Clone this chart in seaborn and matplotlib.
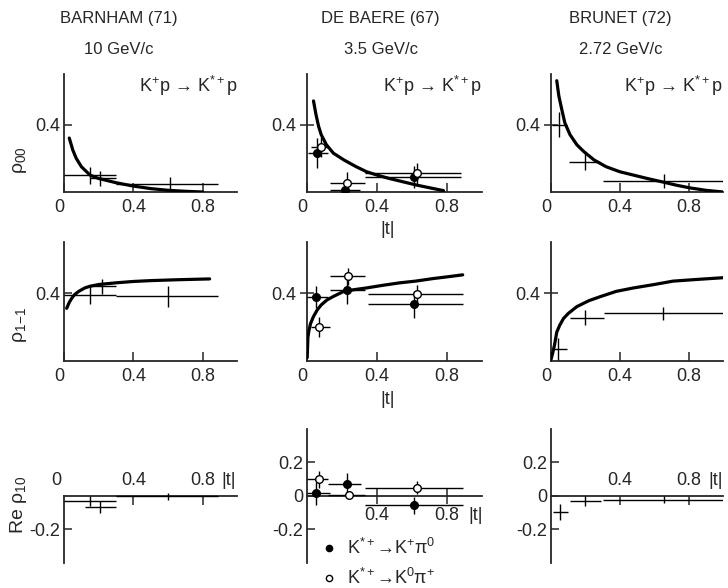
import numpy as np
import matplotlib
matplotlib.use("Agg")
import matplotlib.pyplot as plt
import seaborn as sns
from matplotlib.lines import Line2D

# ---- data ----
# BARNHAM (71), 10 GeV/c
bar00_t = [0.15, 0.21, 0.61]
bar00_v = [0.10, 0.08, 0.05]
bar00_tlo = [0.0, 0.15, 0.30]
bar00_thi = [0.30, 0.30, 0.89]
bar00_err = [0.05, 0.045, 0.04]
bar00_curve_t = [0.03, 0.05, 0.07, 0.1, 0.15, 0.2, 0.3, 0.4, 0.5, 0.6, 0.7, 0.8]
bar00_curve_v = [0.32, 0.25, 0.2, 0.15, 0.1, 0.08, 0.055, 0.035, 0.02, 0.01, 0.004, 0.0]

bar11_t = [0.15, 0.22, 0.60]
bar11_v = [0.39, 0.44, 0.38]
bar11_tlo = [0.0, 0.15, 0.30]
bar11_thi = [0.30, 0.30, 0.89]
bar11_err = [0.055, 0.045, 0.06]
bar11_curve_t = [0.015, 0.03, 0.045, 0.06, 0.085, 0.12, 0.15, 0.2, 0.3, 0.4, 0.5, 0.65, 0.84]
bar11_curve_v = [0.31, 0.345, 0.37, 0.39, 0.41, 0.43, 0.44, 0.45, 0.46, 0.468, 0.473, 0.478, 0.483]

bar10_t = [0.15, 0.21, 0.60]
bar10_v = [-0.03, -0.065, -0.003]
bar10_tlo = [0.0, 0.12, 0.30]
bar10_thi = [0.30, 0.30, 0.89]
bar10_err = [0.03, 0.035, 0.02]

# DE BAERE (67), 3.5 GeV/c  (filled: K*+ -> K+ pi0, open: K*+ -> K0 pi+)
deb00_f_t = [0.055, 0.217, 0.61]
deb00_f_v = [0.23, 0.01, 0.088]
deb00_f_tlo = [0.006, 0.13, 0.33]
deb00_f_thi = [0.12, 0.30, 0.88]
deb00_f_err = [0.09, 0.04, 0.065]
deb00_o_t = [0.078, 0.23, 0.63]
deb00_o_v = [0.267, 0.056, 0.11]
deb00_o_tlo = [0.02, 0.13, 0.33]
deb00_o_thi = [0.12, 0.33, 0.88]
deb00_o_err = [0.06, 0.06, 0.06]
deb00_curve_t = [0.036, 0.05, 0.065, 0.08, 0.11, 0.15, 0.21, 0.28, 0.34, 0.4, 0.47, 0.55, 0.63, 0.7, 0.78]
deb00_curve_v = [0.54, 0.46, 0.39, 0.34, 0.28, 0.23, 0.19, 0.15, 0.12, 0.1, 0.08, 0.06, 0.04, 0.025, 0.008]

deb11_f_t = [0.051, 0.225, 0.61]
deb11_f_v = [0.376, 0.42, 0.333]
deb11_f_tlo = [0.0, 0.13, 0.35]
deb11_f_thi = [0.12, 0.33, 0.89]
deb11_f_err = [0.065, 0.085, 0.08]
deb11_o_t = [0.067, 0.234, 0.63]
deb11_o_v = [0.20, 0.50, 0.396]
deb11_o_tlo = [0.02, 0.13, 0.35]
deb11_o_thi = [0.13, 0.33, 0.89]
deb11_o_err = [0.06, 0.05, 0.05]
deb11_curve_t = [0.0, 0.004, 0.01, 0.019, 0.035, 0.057, 0.08, 0.114, 0.15, 0.21, 0.27, 0.34,
                 0.43, 0.53, 0.62, 0.72, 0.8, 0.89]
deb11_curve_v = [0.02, 0.14, 0.18, 0.22, 0.26, 0.30, 0.33, 0.36, 0.38, 0.41, 0.42, 0.43,
                 0.445, 0.46, 0.47, 0.485, 0.495, 0.507]

deb10_f_t = [0.048, 0.227, 0.61]
deb10_f_v = [0.015, 0.07, -0.056]
deb10_f_tlo = [0.0, 0.12, 0.33]
deb10_f_thi = [0.13, 0.31, 0.89]
deb10_f_err = [0.07, 0.07, 0.05]
deb10_o_t = [0.07, 0.238, 0.63]
deb10_o_v = [0.10, 0.004, 0.05]
deb10_o_tlo = [0.0, 0.12, 0.33]
deb10_o_thi = [0.12, 0.33, 0.89]
deb10_o_err = [0.05, 0.02, 0.04]

# BRUNET (72), 2.72 GeV/c
bru00_t = [0.047, 0.2, 0.655]
bru00_v = [0.40, 0.18, 0.064]
bru00_tlo = [0.004, 0.107, 0.305]
bru00_thi = [0.09, 0.286, 1.0]
bru00_err = [0.075, 0.05, 0.04]
bru00_curve_t = [0.033, 0.045, 0.062, 0.08, 0.11, 0.15, 0.19, 0.25, 0.32, 0.4, 0.48, 0.56,
                 0.655, 0.73, 0.81, 0.9, 1.0]
bru00_curve_v = [0.66, 0.57, 0.49, 0.41, 0.34, 0.28, 0.24, 0.19, 0.15, 0.12, 0.10, 0.08,
                 0.058, 0.04, 0.024, 0.01, 0.0]

bru11_t = [0.043, 0.2, 0.65]
bru11_v = [0.07, 0.256, 0.28]
bru11_tlo = [0.005, 0.11, 0.31]
bru11_thi = [0.095, 0.31, 1.0]
bru11_err = [0.065, 0.045, 0.04]
bru11_curve_t = [0.0, 0.01, 0.02, 0.033, 0.05, 0.072, 0.1, 0.15, 0.22, 0.29, 0.38, 0.48,
                 0.6, 0.71, 0.85, 1.0]
bru11_curve_v = [0.01, 0.05, 0.095, 0.17, 0.21, 0.25, 0.28, 0.32, 0.355, 0.38, 0.41, 0.43,
                 0.45, 0.47, 0.48, 0.49]

bru10_t = [0.052, 0.2, 0.655]
bru10_v = [-0.095, -0.032, -0.022]
bru10_tlo = [0.01, 0.11, 0.30]
bru10_thi = [0.10, 0.29, 1.0]
bru10_err = [0.05, 0.03, 0.02]

headers = ["BARNHAM (71)", "DE BAERE (67)", "BRUNET (72)"]
momenta = ["10 GeV/c", "3.5 GeV/c", "2.72 GeV/c"]
reaction = r"K$^{+}$p → K$^{*+}$p"
legend_labels = [r"K$^{*+}$→K$^{+}$π$^{0}$", r"K$^{*+}$→K$^{0}$π$^{+}$"]

# ---- style ----
sns.set_style("ticks")
plt.rcParams["font.family"] = ["Liberation Sans Narrow", "Liberation Sans", "DejaVu Sans"]
plt.rcParams["mathtext.fontset"] = "custom"
plt.rcParams["mathtext.rm"] = "Liberation Sans"
plt.rcParams["mathtext.it"] = "Liberation Sans"
plt.rcParams["axes.linewidth"] = 1.3
TXT = 13

fig = plt.figure(figsize=(7.28, 5.88), dpi=100)

col_left = [0.088, 0.422, 0.757]
col_w = [0.238, 0.240, 0.236]
row_b = [0.6735, 0.386, 0.0425]
row_h = [0.2007, 0.2024, 0.228]

axes = [[fig.add_axes([col_left[c], row_b[r], col_w[c], row_h[r]]) for c in range(3)]
        for r in range(3)]


def bars(ax, t, v, tlo, thi, err, marker=None, face="k"):
    t = np.array(t)
    xerr = [t - np.array(tlo), np.array(thi) - t]
    fmt = "none" if marker is None else marker
    ax.errorbar(t, v, xerr=xerr, yerr=err, fmt=fmt, color="k", ecolor="k",
                elinewidth=1.0, capsize=0, ms=5.5, mfc=face, mec="k", mew=1.0, zorder=3)


def curve(ax, t, v):
    sns.lineplot(x=t, y=v, ax=ax, color="k", lw=2.3, sort=False, estimator=None, zorder=4)


for r in range(3):
    for c in range(3):
        ax = axes[r][c]
        sns.despine(ax=ax)
        ax.set_xlim(0, 1.0)
        ax.tick_params(labelsize=TXT, width=1.1)
        if r < 2:
            ax.set_ylim(0, 0.7)
            ax.set_xticks([0, 0.4, 0.8])
            ax.set_xticklabels(["0", "0.4", "0.8"])
            ax.get_xticklabels()[0].set_ha("right")
            ax.set_yticks([0.4])
            ax.set_yticklabels(["0.4"])
            ax.tick_params(axis="x", direction="in", length=6.5, pad=5)
            ax.tick_params(axis="y", direction="in" if c == 0 else "inout", length=6 if c == 0 else 10, pad=3)
        else:
            ax.set_ylim(-0.4, 0.4)
            ax.spines["bottom"].set_position(("data", 0))
            ax.set_xticks([0.4, 0.8])

# row 1: rho_00
curve(axes[0][0], bar00_curve_t, bar00_curve_v)
bars(axes[0][0], bar00_t, bar00_v, bar00_tlo, bar00_thi, bar00_err)
curve(axes[0][1], deb00_curve_t, deb00_curve_v)
bars(axes[0][1], deb00_f_t, deb00_f_v, deb00_f_tlo, deb00_f_thi, deb00_f_err, "o", "k")
bars(axes[0][1], deb00_o_t, deb00_o_v, deb00_o_tlo, deb00_o_thi, deb00_o_err, "o", "white")
curve(axes[0][2], bru00_curve_t, bru00_curve_v)
bars(axes[0][2], bru00_t, bru00_v, bru00_tlo, bru00_thi, bru00_err)

# row 2: rho_1-1
curve(axes[1][0], bar11_curve_t, bar11_curve_v)
bars(axes[1][0], bar11_t, bar11_v, bar11_tlo, bar11_thi, bar11_err)
curve(axes[1][1], deb11_curve_t, deb11_curve_v)
bars(axes[1][1], deb11_f_t, deb11_f_v, deb11_f_tlo, deb11_f_thi, deb11_f_err, "o", "k")
bars(axes[1][1], deb11_o_t, deb11_o_v, deb11_o_tlo, deb11_o_thi, deb11_o_err, "o", "white")
curve(axes[1][2], bru11_curve_t, bru11_curve_v)
bars(axes[1][2], bru11_t, bru11_v, bru11_tlo, bru11_thi, bru11_err)

# row 3: Re rho_10
bars(axes[2][0], bar10_t, bar10_v, bar10_tlo, bar10_thi, bar10_err)
bars(axes[2][1], deb10_f_t, deb10_f_v, deb10_f_tlo, deb10_f_thi, deb10_f_err, "o", "k")
bars(axes[2][1], deb10_o_t, deb10_o_v, deb10_o_tlo, deb10_o_thi, deb10_o_err, "o", "white")
bars(axes[2][2], bru10_t, bru10_v, bru10_tlo, bru10_thi, bru10_err)

# row 3 axes details
a = axes[2][0]
a.spines["left"].set_bounds(-0.4, 0)
a.set_yticks([-0.2])
a.set_yticklabels(["-0.2"])
a.tick_params(axis="y", direction="in", length=6, pad=3)
a.tick_params(axis="x", direction="out", length=6.5, labelbottom=False)
for x, s, ha in [(0, "0", "right"), (0.4, "0.4", "center"), (0.8, "0.8", "center")]:
    a.annotate(s, xy=(x, 0), xytext=(-2 if ha == "right" else 0, 5), textcoords="offset points",
               ha=ha, va="bottom", fontsize=TXT)
a.annotate("|t|", xy=(0.95, 0), xytext=(0, 5), textcoords="offset points",
           ha="center", va="bottom", fontsize=TXT)

a = axes[2][1]
a.set_yticks([-0.2, 0, 0.2])
a.set_yticklabels(["-0.2", "0", "0.2"])
a.tick_params(axis="y", direction="in", length=6, pad=3)
a.set_xticklabels(["0.4", "0.8"])
a.tick_params(axis="x", direction="inout", length=12, pad=2)
a.annotate("|t|", xy=(0.966, 0), xytext=(0, -8), textcoords="offset points",
           ha="center", va="top", fontsize=TXT)
handles = [Line2D([], [], ls="none", marker="o", ms=4.5, mfc="k", mec="k"),
           Line2D([], [], ls="none", marker="o", ms=4.5, mfc="white", mec="k")]
a.legend(handles, legend_labels,
         loc="upper left", bbox_to_anchor=(0.04, 0.24), frameon=False, fontsize=TXT,
         handlelength=0.8, handletextpad=0.6, labelspacing=0.55, borderaxespad=0)

a = axes[2][2]
a.set_yticks([-0.2, 0, 0.2])
a.set_yticklabels(["-0.2", "0", "0.2"])
a.tick_params(axis="y", direction="in", length=6, pad=3)
a.tick_params(axis="x", direction="out", length=6.5, labelbottom=False)
for x, s in [(0.4, "0.4"), (0.8, "0.8")]:
    a.annotate(s, xy=(x, 0), xytext=(0, 5), textcoords="offset points",
               ha="center", va="bottom", fontsize=TXT)
a.annotate("|t|", xy=(0.915, 0), xytext=(0, 5), textcoords="offset points",
           ha="left", va="bottom", fontsize=TXT)

# axis labels and annotations
axes[0][0].set_ylabel(r"$\rho_{00}$", fontsize=TXT + 1)
axes[0][0].yaxis.set_label_coords(-0.2, 0.27)
axes[1][0].set_ylabel(r"$\rho_{1\!-\!1}$", fontsize=TXT + 1)
axes[1][0].yaxis.set_label_coords(-0.2, 0.30)
axes[2][0].set_ylabel(r"Re $\rho_{10}$", fontsize=TXT + 1)
axes[2][0].yaxis.set_label_coords(-0.2, 0.43)

for c in range(3):
    axes[0][c].text(1.0, 0.9, reaction, transform=axes[0][c].transAxes,
                    ha="right", va="center", fontsize=TXT)
for r in range(2):
    axes[r][1].text(0.46, -0.32, "|t|", transform=axes[r][1].transAxes,
                    ha="center", va="center", fontsize=TXT)

head_x = [0.163, 0.523, 0.852]
for c in range(3):
    fig.text(head_x[c], 0.969, headers[c], ha="center", va="center", fontsize=12,
             family=["Liberation Sans", "DejaVu Sans"])
    fig.text(head_x[c], 0.915, momenta[c], ha="center", va="center", fontsize=12,
             family=["Liberation Sans", "DejaVu Sans"])

fig.savefig("out.png", dpi=100)
